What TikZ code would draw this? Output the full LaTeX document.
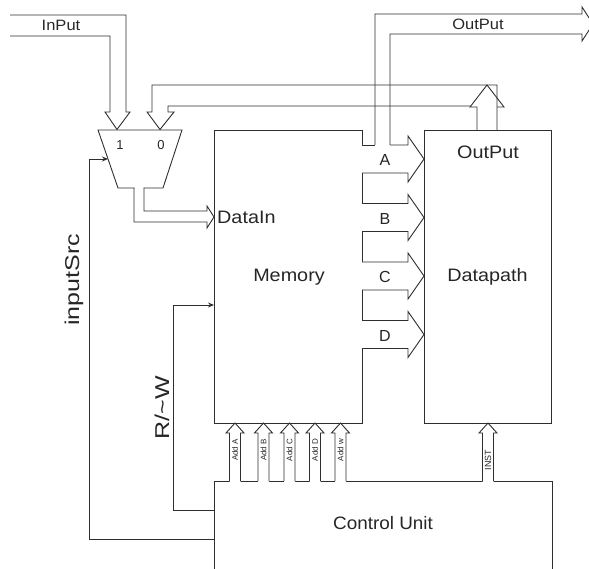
\documentclass[tikz,border=0pt]{standalone}
\usepackage{fontspec}
\setmainfont{Liberation Sans}
\usetikzlibrary{arrows.meta,calc}
\newcommand\strtxt[2]{\scalebox{#1}[1]{#2}}
\newcommand\upBusArrow[4]{% name, centre x, bottom y, tip y
  \coordinate (#1b) at (#2,#3);
  \coordinate (#1t) at (#2,#4);
  \fill[white] ($(#1b)+(-5.5,1.2)$) -- ($(#1t)+(-5.5,10)$) -- ($(#1t)+(-9,10)$) -- (#1t) -- ($(#1t)+(9,10)$) -- ($(#1t)+(5.5,10)$) -- ($(#1b)+(5.5,1.2)$) -- cycle;
  \draw[wire] ($(#1b)+(-5.5,0)$) -- ($(#1t)+(-5.5,10)$) -- ($(#1t)+(-9,10)$) -- (#1t) -- ($(#1t)+(9,10)$) -- ($(#1t)+(5.5,10)$) -- ($(#1b)+(5.5,0)$);
}
\newcommand\rightBus[2]{% name, centre y
  \coordinate (#1s) at (362,#2);
  \coordinate (#1e) at (424,#2);
  \fill[white] ($(#1s)+(-1,-14)$) -- ($(#1e)+(-16,-14)$) -- ($(#1e)+(-16,-23)$) -- (#1e) -- ($(#1e)+(-16,23)$) -- ($(#1e)+(-16,14)$) -- ($(#1s)+(-1,14)$) -- cycle;
}
\tikzset{
  wire/.style={draw=black!82, line width=0.9pt, line join=miter},
  box/.style={wire, rectangle, inner sep=0pt, anchor=north west},
  lbl/.style={text=black!85, inner sep=0pt, font=\fontsize{18}{20}\selectfont},
  toplbl/.style={lbl, font=\fontsize{15}{17}\selectfont},
  muxlbl/.style={lbl, font=\fontsize{13}{15}\selectfont},
  buslbl/.style={lbl, font=\fontsize{16}{18}\selectfont},
  sidelbl/.style={lbl, font=\fontsize{20}{22}\selectfont, rotate=90},
  addlbl/.style={lbl, font=\fontsize{8}{9}\selectfont, rotate=90},
  ctl/.style={wire, -{Stealth[length=6pt,width=5pt]}},
}
\begin{document}
\begin{tikzpicture}[x=1pt,y=-1pt]
\useasboundingbox (0,0) rectangle (589,569);

% boxes
\node[box, minimum width=148pt, minimum height=293pt] (mem) at (214,130) {};
\node[box, minimum width=127pt, minimum height=293pt] (dp) at (424,130) {};
\node[box, minimum width=338pt, minimum height=130pt] (cu) at (214,481) {};

% multiplexer
\coordinate (muxtl) at (98,130);
\coordinate (muxtr) at (182,130);
\coordinate (muxbr) at (163,188);
\coordinate (muxbl) at (118,188);
\draw[wire] (muxtl) -- (muxtr) -- (muxbr) -- (muxbl) -- cycle;
\node[muxlbl] (m1) at (120,145) {1};
\node[muxlbl] (m0) at (161,145) {0};

% DataIn bus (mux -> memory)
\fill[white] (134.5,186) -- (143.5,186) -- (143.5,211) -- (207,211) -- (207,206) -- (214,217) -- (207,228) -- (207,222) -- (134.5,222) -- cycle;
\draw[wire] (134,188) -- (134,222) -- (207,222) -- (207,228) -- (214,217) -- (207,206) -- (207,211) -- (144,211) -- (144,188);

% InPut bus
\draw[wire] (10,15) -- (126,15) -- (126,112) -- (130,112) -- (117,129.5) -- (105,112) -- (110,112) -- (110,36) -- (10,36);
\node[toplbl] (inlbl) at (61,25) {\strtxt{1.1}{InPut}};

% feedback bus (datapath -> mux input 0)
\draw[wire] (497,130) -- (497,85) -- (152,85) -- (152,112) -- (147,112) -- (160,129.5) -- (174,112) -- (168,112) -- (168,106) -- (470,106);
\draw[wire] (477,130) -- (477,107) -- (470,107) -- (487,85) -- (504,107) -- (497,107);

% memory -> datapath buses A-D
\rightBus{ba}{159}
\rightBus{bb}{217.5}
\rightBus{bc}{276}
\rightBus{bd}{334.5}
\draw[wire] (362,145) -- (375,145);
\draw[wire] (390,145) -- (408,145) -- (408,136) -- (424,159) -- (408,182) -- (408,173) -- (362,173);
\foreach \n/\c in {bb/217.5,bc/276,bd/334.5}{
  \draw[wire] (362,\c-14) -- (408,\c-14) -- (408,\c-23) -- (424,\c) -- (408,\c+23) -- (408,\c+14) -- (362,\c+14);
}
\node[buslbl] (la) at (385,160) {A};
\node[buslbl] (lb) at (385,218.5) {B};
\node[buslbl] (lc) at (385,277) {C};
\node[buslbl] (ld) at (385,335.5) {D};

% OutPut bus (top)
\draw[wire] (375,145) -- (375,14) -- (582,14) -- (582,7) -- (593,24) -- (582,41) -- (582,34) -- (390,34) -- (390,145);
\node[toplbl] (outlbl) at (478,24) {\strtxt{1.1}{OutPut}};

% address buses
\upBusArrow{aa}{235}{481}{423}
\upBusArrow{ab}{263.5}{481}{423}
\upBusArrow{ac}{289.5}{481}{423}
\upBusArrow{ad}{315}{481}{423}
\upBusArrow{aw}{340.5}{481}{423}
\upBusArrow{ai}{488}{481}{423}
\node[addlbl] at (235,450) {Add A};
\node[addlbl] at (263.5,450) {Add B};
\node[addlbl] at (289.5,450) {Add C};
\node[addlbl] at (315,450) {Add D};
\node[addlbl] at (340.5,450) {Add w};
\node[addlbl, font=\fontsize{9}{10}\selectfont] at (488,460) {INST};

% control lines
\coordinate (srcA) at (214,539);
\coordinate (srcB) at (89,539);
\coordinate (srcC) at (89,159);
\coordinate (muxsel) at (108,159);
\draw[ctl] (srcA) -- (srcB) -- (srcC) -- (muxsel);
\coordinate (rwA) at (214,510);
\coordinate (rwB) at (173,510);
\coordinate (rwC) at (173,305);
\coordinate (memrw) at (214,305);
\draw[ctl] (rwA) -- (rwB) -- (rwC) -- (memrw);
\node[sidelbl] (srclbl) at (74,280) {\strtxt{1.25}{inputSrc}};
\node[sidelbl] (rwlbl) at (162,408) {\strtxt{1.25}{R/\textasciitilde W}};

% box labels
\node[lbl, anchor=west] (din) at (217,217) {\strtxt{1.1}{DataIn}};
\node[lbl] (meml) at (289,277) {\strtxt{1.1}{Memory}};
\node[lbl] (dpl) at (487.5,277) {\strtxt{1.1}{Datapath}};
\node[lbl] (dpo) at (488,152) {\strtxt{1.1}{OutPut}};
\node[lbl] (cul) at (383,523) {\strtxt{1.05}{Control Unit}};
\end{tikzpicture}
\end{document}
